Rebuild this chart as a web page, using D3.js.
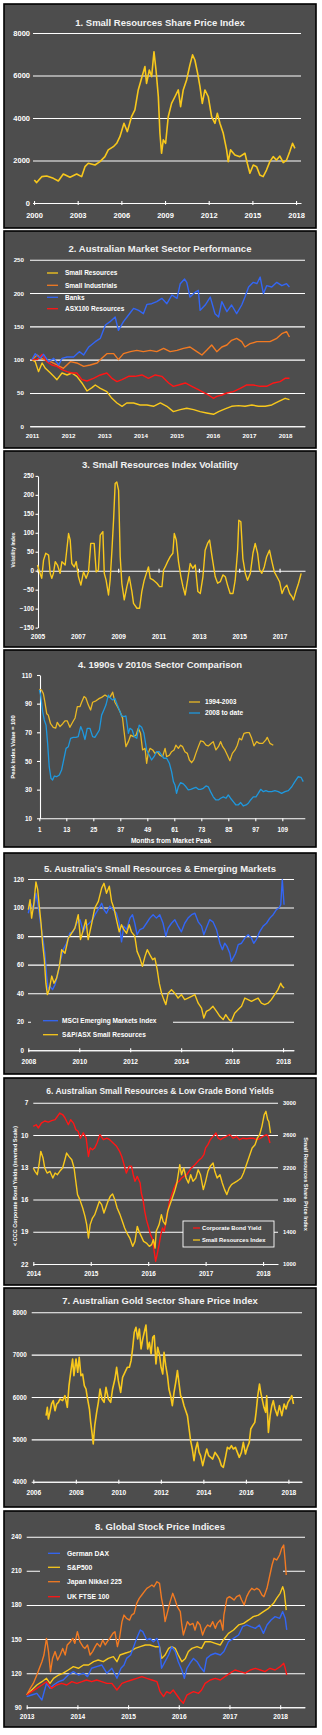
<!DOCTYPE html>
<html><head><meta charset="utf-8">
<script src="https://cdn.jsdelivr.net/npm/d3@7/dist/d3.min.js"></script>
<style>body{margin:0;background:#fff;} svg{display:block;font-family:"Liberation Sans",Arial,sans-serif;}</style>
</head><body><script>
// ---------- DATA ----------
// 1. Small Resources Share Price Index [year, index]
const p1Years=[2000,2003,2006,2009,2012,2015,2018];
const p1Ticks=[0,2000,4000,6000,8000];
const p1Index=[[2000.02,1083],[2000.18,960],[2000.53,1240],[2000.87,1270],[2001.33,1160],[2001.67,1035],[2002.01,1365],[2002.47,1210],[2002.93,1365],[2003.27,1240],[2003.50,1710],[2003.73,1870],[2004.19,1790],[2004.53,1945],[2004.87,2180],[2005.10,2500],[2005.45,2650],[2005.68,2810],[2005.90,3120],[2006.18,3750],[2006.41,3360],[2006.70,4060],[2006.93,4380],[2007.16,5320],[2007.39,5870],[2007.62,6420],[2007.73,5630],[2007.92,6260],[2008.08,5950],[2008.24,7120],[2008.38,6260],[2008.54,5000],[2008.65,3280],[2008.76,2340],[2008.88,2970],[2009.04,2810],[2009.22,4060],[2009.45,4690],[2009.68,5000],[2009.91,5320],[2010.07,4530],[2010.25,5320],[2010.48,5790],[2010.71,6500],[2010.89,6970],[2011.05,6730],[2011.24,6100],[2011.40,5480],[2011.56,4690],[2011.74,5320],[2011.97,5000],[2012.20,4060],[2012.43,3750],[2012.59,4220],[2012.77,3750],[2013.00,3280],[2013.23,2500],[2013.34,1945],[2013.50,2500],[2013.80,2260],[2014.14,2180],[2014.49,2340],[2014.65,1870],[2014.83,1400],[2015.06,1790],[2015.29,1710],[2015.51,1320],[2015.74,1240],[2015.97,1550],[2016.20,1945],[2016.43,2180],[2016.66,2020],[2016.89,2210],[2017.12,1900],[2017.35,2020],[2017.57,2420],[2017.76,2810],[2017.92,2570]];

// 2. Australian Market Sector Performance
const p2Years=[2011,2012,2013,2014,2015,2016,2017,2018];
const p2Ticks=[0,50,100,150,200,250];
const p2Labels=["Small Resources","Small Industrials","Banks","ASX100 Resources"];
const p2Banks=[[2011.00,100],[2011.09,109],[2011.23,102],[2011.32,108],[2011.46,97],[2011.60,102],[2011.74,92],[2011.83,102],[2011.97,104],[2012.15,104],[2012.31,112],[2012.43,107],[2012.57,119],[2012.75,127],[2012.89,132],[2013.03,152],[2013.16,157],[2013.30,164],[2013.39,144],[2013.53,157],[2013.67,167],[2013.81,177],[2013.95,174],[2014.08,169],[2014.18,183],[2014.31,184],[2014.45,187],[2014.59,192],[2014.73,184],[2014.87,197],[2015.01,192],[2015.10,214],[2015.22,221],[2015.28,216],[2015.37,194],[2015.51,201],[2015.60,204],[2015.65,174],[2015.79,182],[2015.93,194],[2016.06,169],[2016.16,164],[2016.25,187],[2016.39,172],[2016.52,182],[2016.66,169],[2016.80,182],[2016.89,194],[2016.99,209],[2017.12,216],[2017.22,214],[2017.31,224],[2017.40,199],[2017.49,211],[2017.63,209],[2017.77,216],[2017.91,211],[2018.04,214],[2018.12,209]];
const p2SmallInd=[[2011.00,100],[2011.14,107],[2011.32,100],[2011.51,97],[2011.69,92],[2011.87,87],[2012.06,97],[2012.24,95],[2012.43,90],[2012.61,92],[2012.80,95],[2012.93,102],[2013.07,109],[2013.26,109],[2013.39,100],[2013.53,109],[2013.72,112],[2013.90,114],[2014.08,112],[2014.27,114],[2014.45,112],[2014.64,117],[2014.82,112],[2015.01,114],[2015.19,117],[2015.37,119],[2015.56,112],[2015.70,107],[2015.83,114],[2015.97,122],[2016.11,112],[2016.25,119],[2016.39,122],[2016.52,129],[2016.66,132],[2016.80,127],[2016.89,119],[2017.03,124],[2017.22,127],[2017.40,127],[2017.58,127],[2017.77,132],[2017.91,139],[2018.04,142],[2018.12,134]];
const p2Asx100=[[2011.00,100],[2011.14,100],[2011.28,108],[2011.41,97],[2011.55,92],[2011.69,90],[2011.83,85],[2011.97,82],[2012.10,80],[2012.24,80],[2012.38,70],[2012.52,68],[2012.70,72],[2012.89,77],[2013.07,80],[2013.21,72],[2013.35,67],[2013.49,70],[2013.67,75],[2013.85,75],[2014.04,77],[2014.22,72],[2014.41,77],[2014.59,75],[2014.78,65],[2014.91,60],[2015.05,62],[2015.24,65],[2015.42,60],[2015.60,55],[2015.74,51],[2015.88,47],[2016.02,42],[2016.11,45],[2016.25,47],[2016.39,50],[2016.57,52],[2016.76,57],[2016.94,62],[2017.12,62],[2017.31,60],[2017.49,60],[2017.68,65],[2017.86,67],[2018.00,72],[2018.12,72]];
const p2SmallRes=[[2011.00,100],[2011.09,97],[2011.18,82],[2011.28,95],[2011.37,87],[2011.51,80],[2011.60,75],[2011.69,70],[2011.83,80],[2011.97,77],[2012.10,80],[2012.24,75],[2012.38,65],[2012.52,53],[2012.66,58],[2012.75,62],[2012.89,57],[2013.07,52],[2013.21,42],[2013.35,35],[2013.49,30],[2013.62,35],[2013.81,35],[2013.99,32],[2014.18,32],[2014.36,30],[2014.55,35],[2014.73,30],[2014.91,22],[2015.10,25],[2015.28,27],[2015.47,25],[2015.65,22],[2015.83,20],[2016.02,18],[2016.16,22],[2016.34,26],[2016.52,30],[2016.71,31],[2016.89,30],[2017.08,32],[2017.26,30],[2017.45,30],[2017.63,32],[2017.81,37],[2018.00,42],[2018.12,40]];

// 3. Small Resources Index Volatility
const p3Years=[2005,2007,2009,2011,2013,2015,2017];
const p3Ticks=[-150,-100,-50,0,50,100,150,200,250];
const p3Vol=[[2005.00,15],[2005.10,-3],[2005.21,-20],[2005.30,28],[2005.41,46],[2005.55,41],[2005.63,-7],[2005.71,-20],[2005.79,-7],[2005.88,24],[2005.99,15],[2006.12,-7],[2006.21,24],[2006.37,15],[2006.45,54],[2006.54,98],[2006.62,81],[2006.70,19],[2006.82,10],[2006.92,24],[2007.03,-16],[2007.15,-38],[2007.28,-3],[2007.41,-20],[2007.53,-3],[2007.64,72],[2007.81,72],[2007.91,-3],[2008.02,2],[2008.11,94],[2008.24,103],[2008.31,-7],[2008.40,-25],[2008.52,-64],[2008.60,-25],[2008.69,54],[2008.77,133],[2008.85,230],[2008.93,234],[2009.02,212],[2009.10,37],[2009.18,-33],[2009.30,-77],[2009.43,-42],[2009.55,-16],[2009.68,-55],[2009.76,-86],[2009.93,-99],[2010.06,-99],[2010.17,-55],[2010.29,-25],[2010.42,-3],[2010.50,10],[2010.59,-20],[2010.75,-25],[2010.92,-33],[2011.05,-42],[2011.17,-42],[2011.25,2],[2011.33,10],[2011.45,24],[2011.58,37],[2011.71,46],[2011.78,98],[2011.88,81],[2011.99,24],[2012.11,-16],[2012.21,-42],[2012.32,-64],[2012.44,-25],[2012.57,19],[2012.70,6],[2012.82,15],[2012.95,-55],[2013.07,-60],[2013.20,-16],[2013.31,54],[2013.43,72],[2013.53,81],[2013.64,41],[2013.81,-16],[2013.93,-33],[2014.06,-29],[2014.19,-11],[2014.31,-16],[2014.42,-38],[2014.55,-60],[2014.69,-60],[2014.80,-25],[2014.92,54],[2014.98,133],[2015.08,129],[2015.18,32],[2015.30,-7],[2015.41,-25],[2015.55,-7],[2015.68,46],[2015.79,72],[2015.91,46],[2016.01,2],[2016.12,-7],[2016.24,10],[2016.36,37],[2016.50,54],[2016.62,24],[2016.74,-3],[2016.87,-16],[2017.00,-29],[2017.12,-60],[2017.23,-46],[2017.36,-38],[2017.50,-60],[2017.61,-68],[2017.69,-77],[2017.83,-51],[2017.94,-33],[2018.07,-7]];

// 4. 1990s v 2010s Sector Comparison [month, value]
const p4Months=[1,13,25,37,49,61,73,85,97,109];
const p4Ticks=[10,30,50,70,90,110];
const p4Labels=["1994-2003","2008 to date"];
const p4Nineties=[[1,100],[2,99.5],[2.8,97],[3.5,91],[4.3,83],[5,82],[6,76],[7.2,73.5],[8.3,73],[9,77],[10.2,74],[11.4,76],[12.4,78],[13.4,78],[14.6,73.5],[15.8,77],[16.9,80],[17.9,88],[19.1,88],[19.8,91],[20.9,95],[21.7,94],[22.8,89],[23.8,85.6],[24.7,91],[26.2,92],[27.7,93.7],[28.7,94.4],[30.2,96],[31.2,95],[32.4,94.4],[33.6,98],[34.6,91],[35.7,88],[36.9,84.4],[38,80],[38.6,71.6],[39.5,60],[40.6,63.5],[41.6,68],[42.8,67],[44,68],[45,72.8],[46,69.3],[46.9,57.7],[48,58.8],[48.7,48.4],[49.4,55.3],[50.2,58.8],[51.4,57.7],[52.4,55.3],[53.4,56.5],[54.6,54],[55.8,53],[56.9,58.8],[57.6,53],[58.8,54],[59.8,56.5],[60.9,57.7],[61.7,61],[62.8,58.8],[63.8,61],[64.7,60],[65.7,56.5],[66.8,55.3],[67.7,50.7],[68.7,48.8],[69.7,51],[70.6,55.3],[71.7,60],[72.7,64],[73.9,63.5],[75.1,61],[76.1,60.5],[77.2,62],[78.3,63.5],[79.5,57.7],[80.6,60],[81.6,63.5],[82.5,60],[83.5,57.7],[84.6,54],[85.7,50.2],[86.8,55.3],[88,57.7],[89,61],[89.9,65.8],[90.9,64.7],[92,69.3],[93.2,69.8],[94.3,69.8],[95.4,65.8],[96.4,60.5],[97.6,63.5],[98.8,62.3],[100.3,62.3],[101.7,64.7],[102.3,66.5],[103.5,62.3],[105,61]];
const p4Recent=[[1,99.5],[1.6,96],[2.5,84.4],[3.2,78.6],[4,75],[4.7,62.3],[5.4,46],[6.2,37.9],[6.9,36.7],[7.7,39.5],[8.7,39],[9.9,40.2],[10.9,43.7],[12,51.9],[12.9,58.8],[13.9,60],[14.9,65.8],[16.1,66.5],[17.3,66.5],[18.3,67],[19.4,74],[20.3,70.5],[21.3,65],[22.3,72.8],[23.5,72.8],[24.7,67],[25.7,66.5],[26.8,69.3],[27.7,71.6],[28.7,82],[29.7,85.6],[30.6,89],[31.7,96],[32.7,93.7],[33.6,92.6],[34.6,93.7],[35.7,89],[36.6,85.6],[37.6,81.4],[38.6,81],[39.5,81.4],[40.6,69.3],[41.3,72.8],[42.3,71.6],[43.2,67],[44.3,65.8],[45.4,75],[46.5,73.5],[47.5,69.3],[48.7,57.7],[49.9,54],[50.9,50.7],[52,53],[53.1,56.5],[54.3,56.5],[55.4,54],[56.4,51.9],[57.6,51.9],[58.8,48.4],[59.8,42.6],[60.6,35.6],[61.3,33.3],[62,27.4],[62.8,32],[63.8,34.9],[65,34],[66.2,32],[67.2,29.8],[68.3,30.2],[69.4,30.9],[70.6,31.6],[71.7,30.2],[72.7,30.2],[73.9,30.9],[75.1,32.6],[76.1,32],[77.1,28.6],[78.3,25],[79.5,22.8],[80.6,22.8],[81.6,24],[82.8,25],[84,24],[85,26.3],[86,24],[87.2,21.6],[88.4,19.3],[89.4,19.3],[90.5,21],[91.7,18.6],[92.9,19.3],[93.9,20.5],[94.9,22.8],[96.1,25],[97.3,25],[98.3,27.4],[99.4,30.2],[100.6,28.6],[101.7,29.3],[102.8,28.6],[104.3,28.6],[105.7,29.3],[107.2,28.6],[108.7,27.4],[110.2,28.6],[111.7,29.3],[113.2,32],[114.6,35.6],[116.1,39],[117.3,38.6],[118.3,35.6]];

// 5. Australia's Small Resources & Emerging Markets
const p5Years=[2008,2010,2012,2014,2016,2018];
const p5Ticks=[0,20,40,60,80,100,120];
const p5Labels=["MSCI Emerging Markets Index","S&P/ASX Small Resources"];
const p5Msci=[[2008.00,96],[2008.09,103],[2008.20,98.5],[2008.30,110],[2008.39,101],[2008.48,89],[2008.56,80],[2008.65,68],[2008.72,52],[2008.78,42.5],[2008.85,44.8],[2008.95,42.5],[2009.05,46],[2009.14,52],[2009.24,61],[2009.37,70.5],[2009.50,75],[2009.63,82],[2009.76,83],[2009.90,89],[2010.03,91.5],[2010.16,83],[2010.26,87],[2010.39,89],[2010.52,91.5],[2010.65,96],[2010.78,99.7],[2010.88,103],[2010.97,98.5],[2011.07,96],[2011.20,101],[2011.33,98.5],[2011.46,96],[2011.57,89],[2011.66,76],[2011.75,87],[2011.86,84.5],[2011.99,92.6],[2012.09,95],[2012.18,89],[2012.27,81],[2012.38,84.5],[2012.51,85.6],[2012.64,89],[2012.77,92.6],[2012.90,95],[2013.03,92.6],[2013.16,95],[2013.29,89],[2013.40,80],[2013.49,85.6],[2013.62,89],[2013.75,91.5],[2013.88,87],[2014.01,83],[2014.14,89],[2014.27,92.6],[2014.41,95],[2014.54,96],[2014.67,90],[2014.80,87],[2014.89,81],[2014.99,85.6],[2015.12,91.5],[2015.25,90],[2015.39,84.5],[2015.52,75],[2015.62,70.5],[2015.71,75],[2015.80,72.8],[2015.91,68],[2015.97,62.3],[2016.04,64.6],[2016.14,68],[2016.24,74],[2016.37,75],[2016.50,78.6],[2016.63,81],[2016.76,78.6],[2016.85,75],[2016.95,77.5],[2017.08,83],[2017.22,87],[2017.35,89],[2017.48,92.6],[2017.61,95],[2017.74,98.5],[2017.84,99.7],[2017.91,102],[2017.97,119.5],[2018.04,102]];
const p5SmallRes=[[2008.00,98.5],[2008.07,105.5],[2008.13,92.6],[2008.22,103],[2008.30,118],[2008.37,112.5],[2008.43,101],[2008.50,89],[2008.56,75],[2008.63,63.5],[2008.69,47],[2008.75,39],[2008.82,42.5],[2008.92,52],[2009.01,47],[2009.11,50.6],[2009.22,58.8],[2009.31,70.5],[2009.44,68],[2009.57,78.6],[2009.70,82],[2009.83,85.6],[2009.96,95],[2010.05,77.5],[2010.16,84.5],[2010.26,91.5],[2010.35,77.5],[2010.48,88],[2010.61,99.7],[2010.75,104.3],[2010.88,113.6],[2010.97,117],[2011.07,110],[2011.18,115],[2011.27,104.3],[2011.36,99.7],[2011.46,91.5],[2011.57,83],[2011.66,88],[2011.75,84.5],[2011.86,82],[2011.96,88],[2012.05,83],[2012.18,80],[2012.27,69.3],[2012.38,64.6],[2012.48,58.8],[2012.58,65.8],[2012.67,70.5],[2012.77,67],[2012.88,63.5],[2012.97,64.6],[2013.06,56.5],[2013.14,47],[2013.23,40],[2013.32,35.5],[2013.40,32],[2013.49,40],[2013.62,42.5],[2013.75,40],[2013.88,36.6],[2014.01,39],[2014.14,35.5],[2014.27,36.6],[2014.41,37.8],[2014.54,39],[2014.67,33],[2014.80,29.6],[2014.89,22.6],[2014.99,27.3],[2015.12,28.5],[2015.25,30.8],[2015.39,27.3],[2015.52,23.8],[2015.65,21.5],[2015.75,25],[2015.88,21.5],[2015.97,20.3],[2016.10,26],[2016.24,28.5],[2016.37,30.8],[2016.50,36.6],[2016.63,35.5],[2016.76,34.3],[2016.89,35.5],[2017.02,36.6],[2017.15,33],[2017.28,32],[2017.41,33],[2017.54,35.5],[2017.67,39],[2017.80,42.5],[2017.91,47],[2017.97,44.8],[2018.04,43.6]];

// 6. Australian Small Resources & Low Grade Bond Yields
const p6Years=[2014,2015,2016,2017,2018];
const p6YieldTicks=[7,10,13,16,19,22];
const p6IndexTicks=[1000,1400,1800,2200,2600,3000];
const p6Labels=["Corporate Bond Yield","Small Resources Index"];
const p6Yield=[[2014.00,9.2],[2014.05,9.05],[2014.09,9.35],[2014.14,8.9],[2014.20,8.7],[2014.26,8.8],[2014.32,8.67],[2014.38,8.58],[2014.42,8.27],[2014.46,7.96],[2014.51,8.1],[2014.55,8.4],[2014.61,9.05],[2014.65,8.58],[2014.70,8.9],[2014.74,9.5],[2014.78,9.66],[2014.82,10.3],[2014.87,9.8],[2014.92,10.3],[2014.96,12],[2014.99,11.2],[2015.03,11.37],[2015.07,11.2],[2015.11,10.75],[2015.16,9.97],[2015.22,10.44],[2015.28,10.3],[2015.33,10.44],[2015.39,10.75],[2015.45,11.06],[2015.50,11.5],[2015.54,12],[2015.58,12.76],[2015.62,13.54],[2015.67,12.9],[2015.71,12.9],[2015.74,13.7],[2015.77,14.3],[2015.81,13.85],[2015.86,14.47],[2015.88,15.4],[2015.91,16],[2015.94,17.1],[2015.97,17.9],[2016.01,18.65],[2016.04,19.27],[2016.08,19.74],[2016.10,20.67],[2016.13,21.75],[2016.16,21],[2016.19,20.2],[2016.22,19.27],[2016.25,18.65],[2016.28,18.96],[2016.31,18],[2016.34,17.1],[2016.37,16.2],[2016.41,15.55],[2016.45,14.93],[2016.49,14.47],[2016.54,14.3],[2016.58,14],[2016.62,13.85],[2016.67,13.7],[2016.71,13.38],[2016.75,13.07],[2016.79,12.9],[2016.84,12.6],[2016.89,12.3],[2016.93,12.14],[2016.97,11.83],[2017.00,11.2],[2017.04,10.9],[2017.08,10.44],[2017.13,10.13],[2017.18,9.82],[2017.22,10.3],[2017.26,10.44],[2017.30,10.3],[2017.36,10.13],[2017.42,9.97],[2017.48,10.3],[2017.54,10.13],[2017.59,10.44],[2017.65,10.3],[2017.71,10.35],[2017.77,10.3],[2017.83,10.3],[2017.88,10.44],[2017.94,10.35],[2018.00,10.13],[2018.06,9.97],[2018.09,10.13],[2018.12,10.75]];
const p6Index=[[2014.00,2190],[2014.03,2149],[2014.07,2107],[2014.10,2231],[2014.13,2397],[2014.17,2314],[2014.20,2190],[2014.24,2128],[2014.29,2149],[2014.34,2066],[2014.38,2128],[2014.42,2107],[2014.46,2149],[2014.51,2190],[2014.55,2293],[2014.58,2376],[2014.62,2335],[2014.67,2293],[2014.71,2190],[2014.74,2025],[2014.77,1860],[2014.81,1798],[2014.86,1694],[2014.90,1591],[2014.93,1488],[2014.96,1322],[2014.99,1488],[2015.03,1570],[2015.07,1612],[2015.11,1694],[2015.15,1777],[2015.19,1736],[2015.23,1632],[2015.26,1694],[2015.30,1777],[2015.34,1839],[2015.38,1868],[2015.42,1798],[2015.46,1694],[2015.51,1612],[2015.55,1529],[2015.59,1446],[2015.63,1384],[2015.68,1322],[2015.73,1219],[2015.77,1281],[2015.81,1467],[2015.84,1405],[2015.88,1343],[2015.92,1281],[2015.97,1260],[2016.02,1219],[2016.06,1240],[2016.09,1302],[2016.12,1198],[2016.14,1405],[2016.19,1488],[2016.23,1612],[2016.26,1529],[2016.30,1488],[2016.34,1653],[2016.38,1736],[2016.42,1818],[2016.46,1901],[2016.50,2004],[2016.55,2231],[2016.58,2107],[2016.62,2190],[2016.66,2066],[2016.70,2004],[2016.74,2107],[2016.78,2025],[2016.83,2066],[2016.87,2169],[2016.91,2107],[2016.96,1922],[2017.00,2025],[2017.04,2149],[2017.08,2211],[2017.13,2252],[2017.16,2149],[2017.20,2066],[2017.25,2107],[2017.29,2004],[2017.33,1922],[2017.37,1860],[2017.41,1942],[2017.45,1984],[2017.49,2004],[2017.54,2025],[2017.58,2045],[2017.62,2066],[2017.66,2128],[2017.71,2231],[2017.74,2293],[2017.78,2376],[2017.81,2438],[2017.86,2479],[2017.90,2562],[2017.94,2603],[2017.98,2707],[2018.02,2851],[2018.05,2893],[2018.08,2789],[2018.10,2769],[2018.13,2624]];

// 7. Australian Gold Sector Share Price Index
const p7Years=[2006,2008,2010,2012,2014,2016,2018];
const p7Ticks=[4000,5000,6000,7000,8000];
const p7Gold=[[2006.60,5559],[2006.66,5756],[2006.71,5480],[2006.78,5638],[2006.86,5835],[2006.94,5913],[2007.02,5677],[2007.10,5835],[2007.18,5874],[2007.25,5953],[2007.38,5913],[2007.49,6031],[2007.60,5756],[2007.68,6268],[2007.76,6583],[2007.85,6898],[2007.91,6504],[2008.01,6898],[2008.09,6583],[2008.16,6937],[2008.24,6504],[2008.32,6543],[2008.40,6268],[2008.48,6189],[2008.54,5992],[2008.64,5716],[2008.70,5402],[2008.76,5165],[2008.82,4890],[2008.89,5323],[2008.98,5638],[2009.06,5874],[2009.14,6189],[2009.23,5953],[2009.33,5874],[2009.42,6228],[2009.53,5953],[2009.64,5874],[2009.73,6189],[2009.84,6425],[2009.92,6701],[2010.00,6386],[2010.11,6110],[2010.20,6465],[2010.31,6583],[2010.42,6701],[2010.52,6701],[2010.60,6858],[2010.67,7134],[2010.75,7528],[2010.83,7646],[2010.91,7370],[2010.99,7606],[2011.07,7134],[2011.15,7370],[2011.22,7528],[2011.30,7700],[2011.38,7134],[2011.46,7291],[2011.54,7016],[2011.62,7409],[2011.69,7449],[2011.77,6780],[2011.85,7173],[2011.93,7016],[2012.01,6701],[2012.09,6543],[2012.15,7055],[2012.23,6740],[2012.31,6504],[2012.38,6189],[2012.46,6031],[2012.54,5795],[2012.62,6110],[2012.70,6346],[2012.78,6622],[2012.85,6346],[2012.93,6031],[2013.01,5953],[2013.09,5795],[2013.17,5677],[2013.25,5559],[2013.33,5244],[2013.40,4969],[2013.48,4772],[2013.56,4496],[2013.64,4772],[2013.72,4929],[2013.80,4693],[2013.87,4614],[2013.97,4378],[2014.06,4575],[2014.16,4772],[2014.25,4614],[2014.35,4575],[2014.44,4535],[2014.55,4693],[2014.66,4614],[2014.75,4535],[2014.85,4378],[2014.94,4339],[2015.04,4575],[2015.13,4811],[2015.22,4772],[2015.32,4850],[2015.41,4772],[2015.51,4811],[2015.60,4693],[2015.69,4575],[2015.79,4693],[2015.88,4929],[2015.98,4654],[2016.07,4811],[2016.16,4929],[2016.23,5244],[2016.32,5323],[2016.42,5402],[2016.48,5638],[2016.56,6031],[2016.64,6307],[2016.70,6110],[2016.78,5913],[2016.85,5756],[2016.93,5638],[2016.98,6031],[2017.06,5165],[2017.14,5559],[2017.22,5795],[2017.29,5913],[2017.37,5716],[2017.48,5559],[2017.58,5795],[2017.69,5559],[2017.80,5835],[2017.89,5716],[2017.98,5874],[2018.08,5953],[2018.16,6031],[2018.24,5835]];

// 8. Global Stock Price Indices
const p8Years=[2013,2014,2015,2016,2017,2018];
const p8Ticks=[90,120,150,180,210,240];
const p8Labels=["German DAX","S&P500","Japan Nikkei 225","UK FTSE 100"];
const p8Nikkei=[[2013.00,100.8],[2013.07,106.7],[2013.13,111],[2013.20,118.4],[2013.25,124.3],[2013.30,130],[2013.34,136],[2013.39,150.6],[2013.43,139],[2013.47,121.3],[2013.51,133],[2013.56,139],[2013.61,131.6],[2013.66,136],[2013.71,141.8],[2013.76,136],[2013.80,144.8],[2013.86,147.7],[2013.91,150.6],[2013.95,146.2],[2014.00,156.5],[2014.05,147.7],[2014.11,143.3],[2014.15,141.8],[2014.20,144.8],[2014.25,136],[2014.30,139],[2014.35,143.3],[2014.39,146.2],[2014.45,143.3],[2014.50,149.2],[2014.55,144.8],[2014.59,147.7],[2014.64,150.6],[2014.70,155],[2014.74,156.5],[2014.79,143.3],[2014.83,150.6],[2014.88,165.3],[2014.92,171.1],[2014.97,168.2],[2015.03,166.7],[2015.07,171.1],[2015.12,172.6],[2015.17,181.4],[2015.22,185.8],[2015.27,188.7],[2015.32,191.7],[2015.37,194.6],[2015.42,196],[2015.47,197.5],[2015.51,196],[2015.57,200.4],[2015.62,199],[2015.66,185.8],[2015.70,177],[2015.73,165.3],[2015.78,174.1],[2015.83,182.9],[2015.88,190.2],[2015.93,184.3],[2015.97,178.5],[2016.03,174.1],[2016.06,162.4],[2016.09,153.6],[2016.13,159.4],[2016.17,165.3],[2016.22,162.4],[2016.28,163.8],[2016.32,158],[2016.37,165.3],[2016.42,162.4],[2016.47,153.6],[2016.52,159.4],[2016.57,162.4],[2016.62,160.9],[2016.67,165.3],[2016.72,159.4],[2016.76,163.8],[2016.82,166.8],[2016.87,158],[2016.89,171.1],[2016.95,185.8],[2017.00,187.3],[2017.05,185.8],[2017.09,184.3],[2017.14,187.3],[2017.20,188.7],[2017.24,184.3],[2017.29,180],[2017.34,187.3],[2017.39,191.7],[2017.44,194.6],[2017.49,193.1],[2017.54,194.6],[2017.59,193.1],[2017.64,188.7],[2017.68,187.3],[2017.74,194.6],[2017.79,204.8],[2017.84,215.1],[2017.88,221],[2017.93,219.5],[2017.99,223.9],[2018.03,229.7],[2018.07,232.7],[2018.10,218],[2018.12,206.3]];
const p8Sp500=[[2013.00,100.8],[2013.10,105.2],[2013.20,109.6],[2013.30,112.5],[2013.39,115.5],[2013.46,111],[2013.53,115.5],[2013.63,118.4],[2013.72,120],[2013.82,122.8],[2013.92,125.7],[2014.02,124.3],[2014.12,127.2],[2014.22,127.2],[2014.32,130.1],[2014.41,131.6],[2014.51,130.1],[2014.61,133],[2014.71,134.5],[2014.78,130.1],[2014.84,136],[2014.94,137.5],[2015.04,139],[2015.14,141.8],[2015.24,143.3],[2015.34,144.8],[2015.43,144.8],[2015.53,143.3],[2015.62,143.3],[2015.66,133],[2015.73,136],[2015.80,141.8],[2015.86,143.3],[2015.93,141.8],[2015.99,136],[2016.06,130.1],[2016.13,133],[2016.19,139],[2016.26,141.8],[2016.36,143.3],[2016.45,141.8],[2016.52,147.7],[2016.62,147.7],[2016.72,146.2],[2016.82,144.8],[2016.88,149.2],[2016.98,155],[2017.08,158],[2017.18,162.4],[2017.28,163.8],[2017.38,166.8],[2017.47,169.7],[2017.57,171.1],[2017.67,174.1],[2017.77,177],[2017.87,181.4],[2017.93,185.8],[2018.00,190.2],[2018.05,196],[2018.08,191.7],[2018.12,175.5]];
const p8Dax=[[2013.00,99.4],[2013.10,100.8],[2013.20,102.3],[2013.30,96.4],[2013.39,111],[2013.46,106.7],[2013.53,109.6],[2013.63,112.5],[2013.72,114],[2013.82,118.4],[2013.92,121.3],[2014.02,118.4],[2014.12,120],[2014.20,117],[2014.28,124.3],[2014.38,125.7],[2014.48,127.2],[2014.58,120],[2014.68,124.3],[2014.78,115.5],[2014.86,124.3],[2014.92,127.2],[2014.97,133],[2015.05,136],[2015.11,143.3],[2015.17,150.6],[2015.24,158],[2015.29,156.5],[2015.37,149.2],[2015.43,150.6],[2015.50,147.7],[2015.57,150.6],[2015.62,143.3],[2015.66,124.3],[2015.73,130.1],[2015.80,136],[2015.86,143.3],[2015.93,139],[2015.99,130.1],[2016.06,122.8],[2016.11,115.5],[2016.16,124.3],[2016.22,128.7],[2016.29,133],[2016.36,130.1],[2016.42,125.7],[2016.50,121.3],[2016.55,133],[2016.63,136],[2016.72,137.5],[2016.82,136],[2016.89,139],[2016.98,147.7],[2017.08,150.6],[2017.18,153.6],[2017.26,160.9],[2017.34,162.4],[2017.42,160.9],[2017.51,159.4],[2017.59,162.4],[2017.67,155],[2017.74,162.4],[2017.82,166.8],[2017.90,169.7],[2017.99,168.2],[2018.05,174.1],[2018.10,168.2],[2018.13,158]];
const p8Ftse=[[2013.00,100.8],[2013.10,103.8],[2013.20,106.7],[2013.30,109.6],[2013.39,112.5],[2013.49,106.7],[2013.59,109.6],[2013.69,111],[2013.79,109.6],[2013.89,112.5],[2013.99,111],[2014.09,112.5],[2014.18,114],[2014.28,112.5],[2014.38,114],[2014.48,112.5],[2014.58,111],[2014.68,111],[2014.78,105.2],[2014.88,111],[2014.97,112.5],[2015.07,114],[2015.17,115.5],[2015.27,117],[2015.37,115.5],[2015.47,114],[2015.57,112.5],[2015.63,103.8],[2015.70,99.4],[2015.76,103.8],[2015.83,102.3],[2015.89,105.2],[2015.96,100.8],[2016.03,96.4],[2016.09,93.5],[2016.16,100.8],[2016.22,102.3],[2016.29,103.8],[2016.39,102.3],[2016.45,105.2],[2016.52,111],[2016.62,114],[2016.72,115.5],[2016.82,114],[2016.91,117],[2017.01,120],[2017.11,122.8],[2017.21,121.3],[2017.31,120],[2017.41,122.8],[2017.51,124.3],[2017.61,122.8],[2017.70,121.3],[2017.80,124.3],[2017.90,122.8],[2018.00,125.7],[2018.07,128.7],[2018.10,124.3],[2018.13,118.4]];

// ---------- DRAWING ----------
const svg=d3.select('body').append('svg').attr('width',322).attr('height',1735);
const PANEL='#4d4d4d', FG='#ffffff';
const C={yellow:'#f8c81c',orange:'#f27a22',blue:'#3366f5',red:'#ff1616',cyan:'#1e98de',gold:'#e9b824'};
const fmt=d3.format('d');

function frame(y0,y1){svg.append('rect').attr('x',4).attr('y',y0).attr('width',312).attr('height',y1-y0).attr('fill',PANEL).attr('stroke','#000').attr('stroke-width',1.6);}
function label(x,y,t,fs,anchor,rot){
  const el=svg.append('text').attr('fill',FG).attr('font-weight','bold').attr('font-size',fs).attr('text-anchor',anchor||'start').attr('dy','0.35em').text(t);
  if(rot){el.attr('transform',`translate(${x},${y}) rotate(${rot})`);} else {el.attr('x',x).attr('y',y);}
  return el;
}
function title(t,y,fs){svg.append('text').attr('x',160).attr('y',y).attr('text-anchor','middle').attr('fill','#f2f2f2').attr('font-weight','bold').attr('font-size',fs||9.5).text(t);}
function style(g,fs){g.selectAll('line').attr('stroke',FG).attr('stroke-width',1.1);g.selectAll('path.domain').attr('stroke',FG).attr('stroke-width',1.1);g.selectAll('text').attr('fill',FG).attr('font-size',fs).attr('font-weight','bold').attr('font-family','"Liberation Sans",Arial,sans-serif');}
function grid(y,xL,xR,vals,pad,fs){const g=svg.append('g').attr('transform',`translate(${xL},0)`).call(d3.axisLeft(y).tickValues(vals).tickSize(-(xR-xL)).tickPadding(pad).tickFormat(fmt));g.select('.domain').remove();style(g,fs);return g;}
function xAxis(x,yPos,vals,spacing,fs,opt){
  opt=opt||{};
  const g=svg.append('g').attr('transform',`translate(0,${yPos})`).call(d3.axisBottom(x).tickValues(vals).tickSizeInner(0).tickSizeOuter(0).tickPadding(spacing).tickFormat(opt.noLabel?'':fmt));
  if(opt.noDomain) g.select('.domain').remove();
  const t=opt.tick===undefined?2:opt.tick;
  if(t) g.selectAll('.tick line').attr('y1',opt.down?0:-t).attr('y2',t); else g.selectAll('.tick line').remove();
  style(g,fs);return g;
}
function line(x,y,data,color,w){svg.append('path').datum(data).attr('d',d3.line().x(d=>x(d[0])).y(d=>y(d[1]))).attr('fill','none').attr('stroke',color).attr('stroke-width',w||1.3).attr('stroke-linejoin','round');}
function legend(items,x0,x1,tx,fs){items.forEach(([t,c,y])=>{svg.append('line').attr('x1',x0).attr('x2',x1).attr('y1',y).attr('y2',y).attr('stroke',c).attr('stroke-width',1.3);label(tx,y,t,fs,'start');});}

// Panel 1
frame(4,228);
title("1. Small Resources Share Price Index",26);
{const x=d3.scaleLinear().domain([1999.93,2018.34]).range([33,301]);
 const y=d3.scaleLinear().domain([0,8000]).range([203,33]);
 grid(y,33,301,p1Ticks,3,7.5);
 xAxis(x,203,p1Years,9.3,7.5);
 line(x,y,p1Index,C.yellow,1.6);}

// Panel 2
frame(231,448);
title("2.  Australian Market Sector Performance",251.5);
{const x=d3.scaleLinear().domain([2010.945,2018.55]).range([30,305]);
 const y=d3.scaleLinear().domain([0,250]).range([426.3,259.7]);
 grid(y,30,305,p2Ticks,6,6.2);
 xAxis(x,426.3,p2Years,7.5,6.2,{tick:0});
 line(x,y,p2SmallRes,C.yellow,1.4);
 line(x,y,p2SmallInd,C.orange,1.4);
 line(x,y,p2Asx100,C.red,1.4);
 line(x,y,p2Banks,C.blue,1.4);
 legend([[p2Labels[0],C.yellow,273],[p2Labels[1],C.orange,285.3],[p2Labels[2],C.blue,297.3],[p2Labels[3],C.red,308.7]],47,58,65,6.5);}

// Panel 3
frame(451,647);
title("3.  Small Resources Index Volatility",468.4);
{const x=d3.scaleLinear().domain([2005,2018.26]).range([37.5,305]);
 const y=d3.scaleLinear().domain([-150,250]).range([627.6,475.9]);
 const g=svg.append('g').attr('transform','translate(38,0)').call(d3.axisLeft(y).tickValues(p3Ticks).tickSizeInner(2.5).tickSizeOuter(0).tickPadding(1.5).tickFormat(fmt));
 style(g,6.3);
 xAxis(x,y(0),p3Years,0,6,{noLabel:true,tick:2});
 xAxis(x,628,p3Years,6.6,6.5,{noDomain:true,tick:0});
 label(13,550,"Volatility Index",5,'middle',-90);
 line(x,y,p3Vol,C.yellow,1.4);}

// Panel 4
frame(650,847);
title("4. 1990s v 2010s Sector Comparison",668.4);
{const x=d3.scaleLinear().domain([1,119]).range([39.3,304.8]);
 const y=d3.scaleLinear().domain([10,110]).range([818.3,675]);
 const gy=svg.append('g').attr('transform','translate(40,0)').call(d3.axisLeft(y).tickValues(p4Ticks).tickSizeInner(3).tickSizeOuter(0).tickPadding(5).tickFormat(fmt));
 style(gy,6.3);
 const gx=svg.append('g').attr('transform','translate(0,818.3)').call(d3.axisBottom(x).tickValues(p4Months).tickSizeInner(3).tickSizeOuter(0).tickPadding(6.4).tickFormat(fmt));
 style(gx,6.3);
 label(171,841,"Months from Market Peak",6.6,'middle');
 label(13,747,"Peak Index Value = 100",5.8,'middle',-90);
 line(x,y,p4Nineties,C.gold,1.3);
 line(x,y,p4Recent,C.cyan,1.3);
 legend([[p4Labels[0],C.gold,702],[p4Labels[1],C.cyan,713]],189,200,205,6.6);}

// Panel 5
frame(853,1074);
title("5. Australia's Small Resources & Emerging Markets",872);
{const x=d3.scaleLinear().domain([2008,2018.43]).range([28.3,294]);
 const y=d3.scaleLinear().domain([0,120]).range([1050.3,879]);
 grid(y,28,294,p5Ticks,4,6.3);
 svg.append('rect').attr('x',31).attr('y',1008).attr('width',142).attr('height',34).attr('fill',PANEL);
 xAxis(x,1050.3,p5Years,9.4,6.6);
 line(x,y,p5Msci,C.blue,1.4);
 line(x,y,p5SmallRes,C.yellow,1.4);
 legend([[p5Labels[0],C.blue,1020.7],[p5Labels[1],C.yellow,1034.7]],43,58,62,6.6);}

// Panel 6
frame(1078,1285);
title("6. Australian Small Resources & Low Grade Bond Yields",1094.3,8.5);
{const x=d3.scaleLinear().domain([2014,2018.26]).range([33.3,278]);
 const yL=d3.scaleLinear().domain([7,22]).range([1102.7,1264]);
 const yR=d3.scaleLinear().domain([1000,3000]).range([1264,1102.7]);
 grid(yL,33.3,278,p6YieldTicks,5,6.5);
 const gr=svg.append('g').attr('transform','translate(278,0)').call(d3.axisRight(yR).tickValues(p6IndexTicks).tickSize(0).tickPadding(5).tickFormat(fmt));
 gr.select('.domain').remove(); style(gr,5.8);
 xAxis(x,1264,p6Years,7.7,6.4);
 label(15,1186,"< CCC Corporate Bond Yields (inverted Scale)",5.5,'middle',-90);
 label(306,1184,"Small Resources Share Price Index",5.6,'middle',90);
 line(x,yL,p6Yield,C.red,1.4);
 line(x,yR,p6Index,C.yellow,1.4);
 svg.append('rect').attr('x',183).attr('y',1221).attr('width',91).attr('height',26).attr('fill',PANEL).attr('stroke',FG).attr('stroke-width',0.9);
 legend([[p6Labels[0],C.red,1228],[p6Labels[1],C.yellow,1240]],193,200,202,5.8);}

// Panel 7
frame(1288,1507);
title("7. Australian Gold Sector Share Price Index",1304);
{const x=d3.scaleLinear().domain([2006,2018.64]).range([33.3,302]);
 const y=d3.scaleLinear().domain([4000,8000]).range([1481.7,1312.3]);
 grid(y,31.7,302,p7Ticks,5,6.3);
 xAxis(x,1481.7,p7Years,9,6.6);
 line(x,y,p7Gold,C.yellow,1.6);}

// Panel 8
frame(1511,1727);
title("8.  Global Stock Price Indices",1530);
{const x=d3.scaleLinear().domain([2013,2018.49]).range([26.7,305]);
 const y=d3.scaleLinear().domain([90,240]).range([1707.3,1536.7]);
 grid(y,26.7,305,p8Ticks,5,6.3);
 svg.append('rect').attr('x',40).attr('y',1542).attr('width',243).attr('height',60).attr('fill',PANEL);
 xAxis(x,1707.3,p8Years,7.4,6.6);
 line(x,y,p8Nikkei,C.orange,1.4);
 line(x,y,p8Sp500,C.yellow,1.4);
 line(x,y,p8Dax,C.blue,1.4);
 line(x,y,p8Ftse,C.red,1.4);
 legend([[p8Labels[0],C.blue,1553.3],[p8Labels[1],C.yellow,1567.3],[p8Labels[2],C.orange,1581.7],[p8Labels[3],C.red,1596.7]],48,60,67,6.8);}
</script></body></html>
